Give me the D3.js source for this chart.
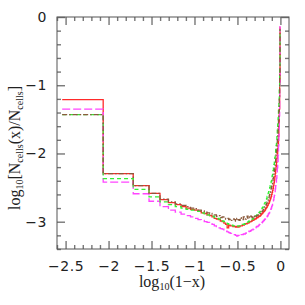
<!DOCTYPE html>
<html>
  <head>
    <meta charset="utf-8">
    <title>Ncells histogram</title>
    <script src="https://d3js.org/d3.v7.min.js"></script>
    <style>
      body { margin: 0; background: #fff; }
    </style>
  </head>
  <body>
    <svg width="305" height="305"></svg>

    <script>
      // bin centres in (1-x), width 0.01
      const oneMinusX = [
        0.005,0.015,0.025,0.035,0.045,0.055,0.065,0.075,0.085,0.095,
        0.105,0.115,0.125,0.135,0.145,0.155,0.165,0.175,0.185,0.195,
        0.205,0.215,0.225,0.235,0.245,0.255,0.265,0.275,0.285,0.295,
        0.305,0.315,0.325,0.335,0.345,0.355,0.365,0.375,0.385,0.395,
        0.405,0.415,0.425,0.435,0.445,0.455,0.465,0.475,0.485,0.495,
        0.505,0.515,0.525,0.535,0.545,0.555,0.565,0.575,0.585,0.595,
        0.605,0.615,0.625,0.635,0.645,0.655,0.665,0.675,0.685,0.695,
        0.705,0.715,0.725,0.735,0.745,0.755,0.765,0.775,0.785,0.795,
        0.805,0.815,0.825,0.835,0.845,0.855,0.865,0.875,0.885,0.895,
        0.905,0.915,0.925,0.935,0.945,0.955,0.965,0.975,0.985,0.995
      ];

      // log10[Ncells(x)/Ncells] per bin
      const redVals = [
        -1.21,-2.295,-2.47,-2.585,-2.675,-2.72,-2.75,-2.78,-2.80,-2.82,
        -2.83,-2.85,-2.87,-2.88,-2.90,-2.91,-2.93,-2.95,-2.96,-2.97,
        -2.99,-3.00,-3.02,-3.04,-3.09,-3.05,-3.06,-3.06,-3.07,-3.07,
        -3.08,-3.07,-3.08,-3.07,-3.06,-3.06,-3.05,-3.05,-3.04,-3.03,
        -3.03,-3.02,-3.02,-3.01,-3.00,-3.00,-2.99,-2.98,-2.98,-2.97,
        -2.96,-2.96,-2.95,-2.94,-2.94,-2.93,-2.92,-2.92,-2.91,-2.90,
        -2.89,-2.88,-2.87,-2.86,-2.85,-2.84,-2.83,-2.81,-2.80,-2.79,
        -2.77,-2.76,-2.74,-2.73,-2.71,-2.69,-2.67,-2.65,-2.63,-2.60,
        -2.57,-2.54,-2.51,-2.47,-2.43,-2.39,-2.34,-2.29,-2.24,-2.19,
        -2.13,-2.07,-2.00,-1.93,-1.85,-1.75,-1.60,-1.35,-0.95,-0.15
      ];
      const magentaVals = [
        -1.35,-2.42,-2.59,-2.70,-2.78,-2.83,-2.86,-2.89,-2.91,-2.93,
        -2.95,-2.97,-2.98,-3.00,-3.01,-3.03,-3.04,-3.06,-3.07,-3.09,
        -3.10,-3.11,-3.13,-3.14,-3.15,-3.16,-3.17,-3.18,-3.19,-3.19,
        -3.20,-3.21,-3.20,-3.21,-3.20,-3.19,-3.19,-3.18,-3.18,-3.17,
        -3.16,-3.16,-3.15,-3.14,-3.14,-3.13,-3.12,-3.12,-3.11,-3.10,
        -3.10,-3.09,-3.08,-3.07,-3.07,-3.06,-3.05,-3.04,-3.03,-3.02,
        -3.02,-3.01,-3.00,-2.99,-2.98,-2.97,-2.96,-2.95,-2.94,-2.93,
        -2.92,-2.91,-2.89,-2.88,-2.87,-2.85,-2.84,-2.82,-2.80,-2.78,
        -2.76,-2.73,-2.71,-2.68,-2.64,-2.61,-2.57,-2.52,-2.47,-2.42,
        -2.36,-2.29,-2.21,-2.12,-2.02,-1.89,-1.72,-1.45,-1.00,-0.14
      ];
      const greenVals = [
        -1.43,-2.37,-2.525,-2.635,-2.71,-2.75,-2.78,-2.80,-2.82,-2.83,
        -2.84,-2.85,-2.87,-2.88,-2.90,-2.91,-2.92,-2.94,-2.95,-2.96,
        -2.98,-2.99,-3.00,-3.02,-3.03,-3.04,-3.04,-3.05,-3.06,-3.06,
        -3.06,-3.07,-3.06,-3.06,-3.05,-3.05,-3.04,-3.04,-3.03,-3.02,
        -3.01,-3.01,-3.00,-2.99,-2.98,-2.98,-2.97,-2.96,-2.95,-2.94,
        -2.93,-2.92,-2.91,-2.90,-2.89,-2.88,-2.87,-2.86,-2.85,-2.83,
        -2.82,-2.80,-2.79,-2.77,-2.75,-2.74,-2.72,-2.70,-2.68,-2.66,
        -2.63,-2.61,-2.58,-2.56,-2.53,-2.50,-2.47,-2.44,-2.41,-2.37,
        -2.33,-2.29,-2.25,-2.21,-2.16,-2.11,-2.06,-2.00,-1.94,-1.88,
        -1.81,-1.74,-1.66,-1.57,-1.48,-1.37,-1.24,-1.05,-0.75,-0.20
      ];
      const brownVals = [
        -1.43,-2.295,-2.47,-2.585,-2.67,-2.71,-2.74,-2.76,-2.78,-2.80,
        -2.81,-2.83,-2.84,-2.86,-2.87,-2.88,-2.89,-2.90,-2.92,-2.91,
        -2.94,-2.93,-2.95,-2.96,-2.95,-2.97,-2.96,-2.98,-2.96,-2.97,
        -2.99,-2.95,-2.97,-2.98,-2.94,-2.96,-2.97,-2.93,-2.95,-2.96,
        -2.94,-2.92,-2.95,-2.93,-2.94,-2.92,-2.93,-2.94,-2.92,-2.93,
        -2.92,-2.93,-2.92,-2.91,-2.91,-2.90,-2.90,-2.89,-2.88,-2.87,
        -2.86,-2.85,-2.84,-2.82,-2.81,-2.80,-2.78,-2.76,-2.75,-2.73,
        -2.71,-2.69,-2.67,-2.65,-2.62,-2.60,-2.57,-2.54,-2.51,-2.48,
        -2.45,-2.41,-2.37,-2.33,-2.29,-2.24,-2.19,-2.14,-2.08,-2.02,
        -1.96,-1.89,-1.81,-1.73,-1.64,-1.52,-1.38,-1.18,-0.85,-0.18
      ];

      const xMajor = [-2.5, -2, -1.5, -1, -0.5, 0];
      const yMajor = [0, -1, -2, -3];

      const plotLeft = 57, plotRight = 289, plotTop = 17, plotBottom = 249;

      const x = d3.scaleLinear().domain([-2.6, 0.1]).range([plotLeft, plotRight]);
      const y = d3.scaleLinear().domain([-3.4, 0]).range([plotBottom, plotTop]);

      const svg = d3.select("svg");

      // histogram steps: edges halfway between log bin centres
      const lx = oneMinusX.map(u => Math.log10(u));
      function stepPoints(vals) {
        const pts = [];
        const n = lx.length;
        for (let i = 0; i < n; i++) {
          const l = i === 0 ? lx[0] - (lx[1] - lx[0]) / 2 : (lx[i - 1] + lx[i]) / 2;
          const r = i === n - 1 ? lx[i] + (lx[i] - lx[i - 1]) / 2 : (lx[i] + lx[i + 1]) / 2;
          pts.push([l, vals[i]], [r, vals[i]]);
        }
        return pts;
      }

      const line = d3.line().x(d => x(d[0])).y(d => y(d[1]));

      const series = [
        { vals: redVals, color: "#ff2a2a", dash: null },
        { vals: magentaVals, color: "#ff44ff", dash: "8,3" },
        { vals: greenVals, color: "#33ee33", dash: "4,3" },
        { vals: brownVals, color: "#8b5a3c", dash: "5,2,1.5,2" }
      ];

      series.forEach(s => {
        svg.append("path")
          .datum(stepPoints(s.vals))
          .attr("fill", "none")
          .attr("stroke", s.color)
          .attr("stroke-width", 1.3)
          .attr("stroke-dasharray", s.dash)
          .attr("d", line);
      });

      // ticks on all four sides, pointing inward
      const xMinor = d3.range(-26, 1).map(v => v / 10).filter(v => !xMajor.some(m => Math.abs(m - v) < 1e-6));
      const yMinor = d3.range(-17, 1).map(v => v / 5).filter(v => !yMajor.some(m => Math.abs(m - v) < 1e-6));
      const tickColor = "#777";

      function addAxis(axis, transform, labels) {
        const g = svg.append("g").attr("transform", transform).call(axis);
        g.select(".domain").remove();
        g.selectAll("line").attr("stroke", tickColor).attr("stroke-width", 1.4);
        if (!labels) g.selectAll("text").remove();
        return g;
      }

      const fmt = d3.format("");
      addAxis(d3.axisBottom(x).tickValues(xMajor).tickSize(-8).tickPadding(12).tickFormat(fmt), `translate(0,${plotBottom})`, true);
      addAxis(d3.axisBottom(x).tickValues(xMinor).tickSize(-4).tickFormat(""), `translate(0,${plotBottom})`, false);
      addAxis(d3.axisTop(x).tickValues(xMajor).tickSize(-8), `translate(0,${plotTop})`, false);
      addAxis(d3.axisTop(x).tickValues(xMinor).tickSize(-4), `translate(0,${plotTop})`, false);
      addAxis(d3.axisLeft(y).tickValues(yMajor).tickSize(-8).tickPadding(10).tickFormat(fmt), `translate(${plotLeft},0)`, true);
      addAxis(d3.axisLeft(y).tickValues(yMinor).tickSize(-4).tickFormat(""), `translate(${plotLeft},0)`, false);
      addAxis(d3.axisRight(y).tickValues(yMajor).tickSize(-8), `translate(${plotRight},0)`, false);
      addAxis(d3.axisRight(y).tickValues(yMinor).tickSize(-4), `translate(${plotRight},0)`, false);

      svg.selectAll("g text")
        .attr("font-family", "DejaVu Sans")
        .attr("font-size", 14)
        .attr("letter-spacing", 0.6)
        .attr("fill", "#222");

      // frame
      svg.append("rect")
        .attr("x", plotLeft).attr("y", plotTop)
        .attr("width", plotRight - plotLeft).attr("height", plotBottom - plotTop)
        .attr("fill", "none")
        .attr("stroke", "#555")
        .attr("stroke-width", 1);

      // axis titles
      const xt = svg.append("text")
        .attr("x", 172).attr("y", 287)
        .attr("text-anchor", "middle")
        .attr("font-family", "Liberation Serif")
        .attr("font-size", 16)
        .attr("fill", "#222");
      xt.append("tspan").text("log");
      xt.append("tspan").attr("font-size", 10).attr("dy", 3).text("10");
      xt.append("tspan").attr("dy", -3).text("(1−x)");

      const yt = svg.append("text")
        .attr("transform", "translate(20,148) rotate(-90)")
        .attr("text-anchor", "middle")
        .attr("font-family", "Liberation Serif")
        .attr("font-size", 16)
        .attr("fill", "#222");
      yt.append("tspan").text("log");
      yt.append("tspan").attr("font-size", 10).attr("dy", 3).text("10");
      yt.append("tspan").attr("dy", -3).text("[N");
      yt.append("tspan").attr("font-size", 10).attr("dy", 3).text("cells");
      yt.append("tspan").attr("dy", -3).text("(x)/N");
      yt.append("tspan").attr("font-size", 10).attr("dy", 3).text("cells");
      yt.append("tspan").attr("dy", -3).text("]");
    </script>
  </body>
</html>
